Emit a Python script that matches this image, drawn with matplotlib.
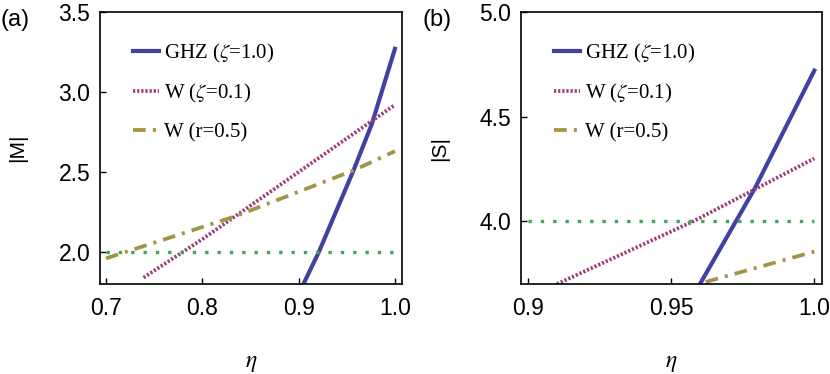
import matplotlib
matplotlib.use("Agg")
import matplotlib.pyplot as plt

plt.rcParams['font.family'] = ['Liberation Sans', 'DejaVu Sans']
plt.rcParams['mathtext.fontset'] = 'stix'

# panel (a): |M| vs eta
eta_ghz_a = [0.905, 0.921, 0.957, 0.976, 1.0]
M_ghz = [1.80, 2.00, 2.51, 2.80, 3.27]
eta_wz_a = [0.739, 0.80, 0.90, 1.0]
M_wz = [1.84, 2.08, 2.50, 2.92]
eta_wr_a = [0.70, 0.836, 0.957, 1.0]
M_wr = [1.96, 2.227, 2.51, 2.63]
eta_bound_a = [0.70, 1.0]
M_bound = [2.0, 2.0]

# panel (b): |S| vs eta
eta_ghz_b = [0.96, 0.9793, 1.0]
S_ghz = [3.70, 4.16, 4.72]
eta_wz_b = [0.91, 0.9577, 1.0]
S_wz = [3.70, 4.00, 4.30]
eta_wr_b = [0.962, 1.0]
S_wr = [3.71, 3.855]
eta_bound_b = [0.90, 1.0]
S_bound = [4.0, 4.0]

labels = ['GHZ ($\\zeta$=1.0)', 'W ($\\zeta$=0.1)', 'W (r=0.5)']
xticks_a = [0.7, 0.8, 0.9, 1.0]
yticks_a = [2.0, 2.5, 3.0, 3.5]
xticks_b = [0.9, 0.95, 1.0]
xticklabels_b = ['0.9', '0.95', '1.0']
yticks_b = [4.0, 4.5, 5.0]

c_ghz = '#4141a3'
c_wz = '#9c3f7a'
c_wr = '#a39445'
c_bound = '#3fa558'

fig = plt.figure(figsize=(8.3, 3.74), dpi=100)
ax1 = fig.add_axes([0.1205, 0.2406, 0.3638, 0.7273])
ax2 = fig.add_axes([0.6277, 0.2406, 0.3627, 0.7273])


def draw(ax, eg, yg, ez, yz, er, yr, eb, yb):
    ax.plot(eg, yg, color=c_ghz, lw=3.0, label=labels[0])
    ax.plot(ez, yz, color=c_wz, lw=2.7, ls=(0, (0.6, 0.5)), label=labels[1])
    ax.plot(er, yr, color=c_wr, lw=2.7, ls=(0, (3.4, 1.9, 0.8, 1.9)),
            label=labels[2])
    ax.plot(eb, yb, color=c_bound, lw=2.4, ls=(0, (1.0, 2.7)))
    ax.tick_params(direction='in', length=4, width=1, labelsize=16.5,
                   top=False, right=False)
    ax.tick_params(axis='x', pad=9)
    ax.tick_params(axis='y', pad=7)
    for s in ax.spines.values():
        s.set_linewidth(1.2)
    ax.legend(loc='upper left', bbox_to_anchor=(0.11, 0.89),
              frameon=False, borderpad=0, borderaxespad=0,
              handlelength=1.25, handletextpad=0.25, labelspacing=0.83,
              prop={'family': 'Liberation Serif', 'size': 15})
    ax.set_xlabel('$\\eta$', fontsize=17)
    ax.xaxis.set_label_coords(0.5, -0.25)


draw(ax1, eta_ghz_a, M_ghz, eta_wz_a, M_wz, eta_wr_a, M_wr,
     eta_bound_a, M_bound)
ax1.set_xlim(0.6938, 1.0073)
ax1.set_ylim(1.8, 3.5)
ax1.set_xticks(xticks_a)
ax1.set_yticks(yticks_a)
ax1.set_ylabel('|M|', fontsize=15)
ax1.yaxis.set_label_coords(-0.24, 0.5)

draw(ax2, eta_ghz_b, S_ghz, eta_wz_b, S_wz, eta_wr_b, S_wr,
     eta_bound_b, S_bound)
ax2.set_xlim(0.8974, 1.0027)
ax2.set_ylim(3.7, 5.0)
ax2.set_xticks(xticks_b)
ax2.set_xticklabels(xticklabels_b)
ax2.set_yticks(yticks_b)
ax2.set_ylabel('|S|', fontsize=15)
ax2.yaxis.set_label_coords(-0.24, 0.5)

fig.text(0.001, 0.975, '(a)', fontsize=17, va='top', ha='left')
fig.text(0.509, 0.975, '(b)', fontsize=17, va='top', ha='left')

fig.savefig('out.png', dpi=100)
